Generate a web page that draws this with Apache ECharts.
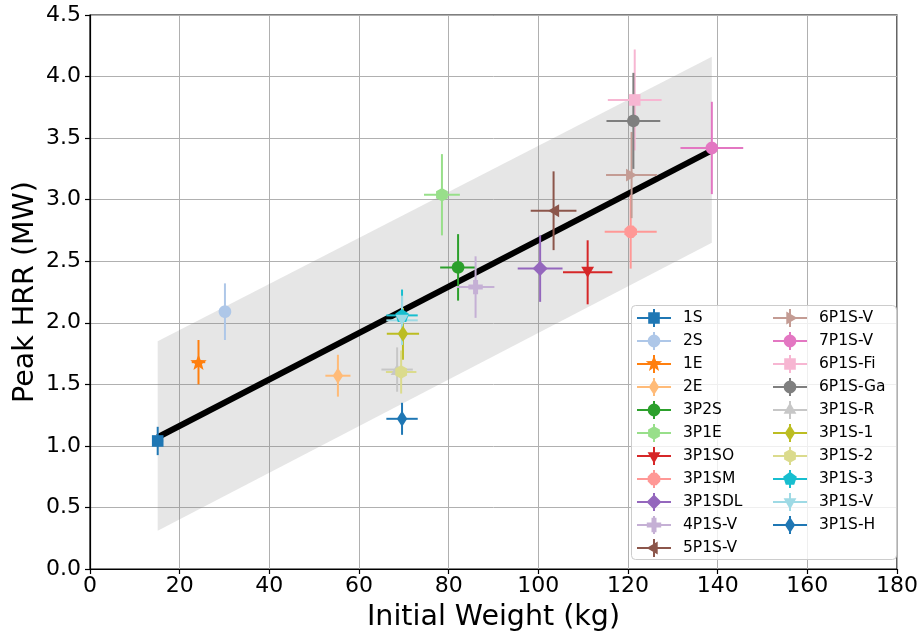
<!DOCTYPE html>
<html>
<head>
<meta charset="utf-8">
<script src="https://cdn.jsdelivr.net/npm/echarts@6/dist/echarts.min.js"></script>
<style>
  html, body { margin: 0; padding: 0; background: #ffffff; }
  #chart { width: 922px; height: 634px; }
</style>
</head>
<body>
<div id="chart"></div>
<script>
// Test configurations
const testNames = ['1S', '2S', '1E', '2E', '3P2S', '3P1E', '3P1SO', '3P1SM', '3P1SDL', '4P1S-V', '5P1S-V',
                   '6P1S-V', '7P1S-V', '6P1S-Fi', '6P1S-Ga', '3P1S-R', '3P1S-1', '3P1S-2', '3P1S-3', '3P1S-V', '3P1S-H'];
// Initial weight (kg) and its uncertainty
const initialWeight = [15.1, 30.1, 24.2, 55.3, 82.1, 78.5, 111.0, 120.6, 100.4, 86.0, 103.4,
                       120.8, 138.7, 121.5, 121.2, 68.5, 69.8, 69.4, 69.6, 69.6, 69.6];
const initialWeightErr = [1.2, 1.2, 1.5, 2.8, 4.0, 4.0, 5.5, 5.8, 5.0, 4.2, 5.1,
                          5.7, 7.0, 6.0, 6.0, 3.5, 3.6, 3.4, 3.5, 3.5, 3.5];
// Peak heat release rate (MW) and its uncertainty
const peakHrr = [1.04, 2.09, 1.68, 1.57, 2.45, 3.04, 2.41, 2.74, 2.44, 2.29, 2.91,
                 3.20, 3.42, 3.81, 3.64, 1.62, 1.91, 1.60, 2.06, 2.02, 1.22];
const peakHrrErr = [0.115, 0.23, 0.18, 0.17, 0.27, 0.33, 0.26, 0.30, 0.27, 0.25, 0.32,
                    0.35, 0.375, 0.41, 0.39, 0.18, 0.21, 0.175, 0.21, 0.20, 0.13];

// Linear fit and its prediction band
const fitWeight = [15.1, 138.7];
const fitHrr = [1.07, 3.40];
const bandLower = [0.31, 2.65];
const bandUpper = [1.85, 4.16];

// Axis ticks
const xTicks = [0, 20, 40, 60, 80, 100, 120, 140, 160, 180];
const yTicks = [0.0, 0.5, 1.0, 1.5, 2.0, 2.5, 3.0, 3.5, 4.0, 4.5];

// Styling per series
const seriesColors = ['#1f77b4', '#aec7e8', '#ff7f0e', '#ffbb78', '#2ca02c', '#98df8a', '#d62728', '#ff9896',
                      '#9467bd', '#c5b0d5', '#8c564b', '#c49c94', '#e377c2', '#f7b6d2', '#7f7f7f', '#c7c7c7',
                      '#bcbd22', '#dbdb8d', '#17becf', '#9edae5', '#1f77b4'];
const seriesShapes = ['square', 'circle', 'star', 'thinDiamond', 'circle', 'hexagon', 'triangleDown', 'octagon',
                      'diamond', 'plus', 'triangleLeft', 'triangleRight', 'circle', 'square', 'circle', 'triangleUp',
                      'thinDiamond', 'hexagon', 'pentagon', 'triangleDown', 'thinDiamond'];

const FONT = "'DejaVu Sans', sans-serif";

function ngon(n, r, startDeg) {
  const pts = [];
  for (let k = 0; k < n; k++) {
    const a = (startDeg + k * 360 / n) * Math.PI / 180;
    pts.push([r * Math.cos(a), r * Math.sin(a)]);
  }
  return pts;
}

function shapePoints(shape) {
  switch (shape) {
    case 'square': { const a = 5.8; return [[-a, -a], [a, -a], [a, a], [-a, a]]; }
    case 'circle': return ngon(36, 6.3, 0);
    case 'star': {
      const pts = [];
      for (let k = 0; k < 10; k++) {
        const a = (-90 + k * 36) * Math.PI / 180;
        const r = k % 2 === 0 ? 8.6 : 3.6;
        pts.push([r * Math.cos(a), r * Math.sin(a)]);
      }
      return pts;
    }
    case 'thinDiamond': { const r = 8; return [[0, -r], [0.65 * r, 0], [0, r], [-0.65 * r, 0]]; }
    case 'diamond': { const r = 7.5; return [[0, -r], [r, 0], [0, r], [-r, 0]]; }
    case 'triangleUp': return ngon(3, 7.4, -90);
    case 'triangleDown': return ngon(3, 7.4, 90);
    case 'triangleLeft': return ngon(3, 7.4, 180);
    case 'triangleRight': return ngon(3, 7.4, 0);
    case 'hexagon': return ngon(6, 6.8, -90);
    case 'octagon': return ngon(8, 6.8, 22.5);
    case 'pentagon': return ngon(5, 7.2, -90);
    case 'plus': {
      const r = 7.2, w = 2.5;
      return [[-w, -r], [w, -r], [w, -w], [r, -w], [r, w], [w, w], [w, r], [-w, r], [-w, w], [-r, w], [-r, -w], [-w, -w]];
    }
  }
  return ngon(36, 6, 0);
}

function polyPath(pts, dx, dy) {
  return pts.map((p, i) => (i === 0 ? 'M' : 'L') + (p[0] + dx).toFixed(2) + ' ' + (p[1] + dy).toFixed(2)).join(' ') + ' Z';
}

function bbox(pts) {
  const xs = pts.map(p => p[0]), ys = pts.map(p => p[1]);
  return [Math.max(...xs) - Math.min(...xs), Math.max(...ys) - Math.min(...ys)];
}

// Legend icon: horizontal line, vertical error tick and the marker, inside a 34x18 box
function legendIcon(shape) {
  const line = 'M0 8 L34 8 L34 10 L0 10 Z';
  const vbar = 'M16 0 L18 0 L18 18 L16 18 Z';
  return 'path://' + line + ' ' + vbar + ' ' + polyPath(shapePoints(shape), 17, 9);
}

const series = [];

// Prediction band
series.push({
  type: 'custom',
  name: 'band',
  z: 1,
  silent: true,
  data: fitWeight.map((w, i) => [w, bandLower[i], bandUpper[i]]),
  renderItem: function (params, api) {
    if (params.dataIndex !== 0) return null;
    const pts = [];
    for (let i = 0; i < fitWeight.length; i++) pts.push(api.coord([fitWeight[i], bandLower[i]]));
    for (let i = fitWeight.length - 1; i >= 0; i--) pts.push(api.coord([fitWeight[i], bandUpper[i]]));
    return { type: 'polygon', shape: { points: pts }, style: { fill: 'rgba(128,128,128,0.2)' } };
  }
});

// Fit line
series.push({
  type: 'line',
  name: 'fit',
  z: 2,
  silent: true,
  symbol: 'none',
  data: fitWeight.map((w, i) => [w, fitHrr[i]]),
  lineStyle: { color: '#000000', width: 6, cap: 'butt' },
  itemStyle: { color: '#000000' }
});

testNames.forEach((name, i) => {
  const color = seriesColors[i];
  // error bars
  series.push({
    type: 'custom',
    name: name,
    z: 3,
    itemStyle: { color: color },
    data: [[initialWeight[i], peakHrr[i], initialWeightErr[i], peakHrrErr[i]]],
    encode: { x: 0, y: 1 },
    renderItem: function (params, api) {
      const x = api.value(0), y = api.value(1), xe = api.value(2), ye = api.value(3);
      const a = api.coord([x - xe, y]), b = api.coord([x + xe, y]);
      const c = api.coord([x, y - ye]), d = api.coord([x, y + ye]);
      const st = { stroke: color, lineWidth: 2, fill: null };
      return {
        type: 'group',
        children: [
          { type: 'line', shape: { x1: a[0], y1: a[1], x2: b[0], y2: b[1] }, style: st },
          { type: 'line', shape: { x1: c[0], y1: c[1], x2: d[0], y2: d[1] }, style: st }
        ]
      };
    }
  });
  // marker: the path is stretched to its own bounding box size
  const pts = shapePoints(seriesShapes[i]);
  series.push({
    type: 'scatter',
    name: name,
    z: 4,
    symbol: 'path://' + polyPath(pts, 0, 0),
    symbolSize: bbox(pts),
    symbolKeepAspect: false,
    itemStyle: { color: color, opacity: 1 },
    data: [[initialWeight[i], peakHrr[i]]]
  });
});

function legendBlock(names, left) {
  return {
    orient: 'vertical',
    left: left,
    top: 309,
    padding: 0,
    itemWidth: 34,
    itemHeight: 18,
    itemGap: 5,
    z: 20,
    selectedMode: false,
    textStyle: { fontFamily: FONT, fontSize: 15.5, color: '#000000', padding: [0, 0, 0, 7] },
    data: names.map(n => ({ name: n, icon: legendIcon(seriesShapes[testNames.indexOf(n)]) }))
  };
}

const option = {
  animation: false,
  backgroundColor: '#ffffff',
  grid: {
    left: 90, right: 25, top: 15, bottom: 65,
    outerBoundsMode: 'none', containLabel: false,
    show: true, borderColor: '#000000', borderWidth: 1.2, backgroundColor: 'transparent'
  },
  xAxis: {
    type: 'value',
    min: xTicks[0],
    max: xTicks[xTicks.length - 1],
    interval: xTicks[1] - xTicks[0],
    name: 'Initial Weight (kg)',
    nameLocation: 'middle',
    nameGap: 34,
    nameMoveOverlap: false,
    nameTextStyle: { fontFamily: FONT, fontSize: 28.5, color: '#000000' },
    axisLine: { show: true, onZero: false, lineStyle: { color: '#000000', width: 1.2 } },
    axisTick: { show: true, inside: false, length: 5, lineStyle: { color: '#000000', width: 1.2 } },
    axisLabel: { fontFamily: FONT, fontSize: 22, color: '#000000', margin: 6 },
    splitLine: { show: true, lineStyle: { color: '#b0b0b0', width: 1 } }
  },
  yAxis: {
    type: 'value',
    min: yTicks[0],
    max: yTicks[yTicks.length - 1],
    interval: yTicks[1] - yTicks[0],
    name: 'Peak HRR (MW)',
    nameLocation: 'middle',
    nameGap: 50,
    nameMoveOverlap: false,
    nameTextStyle: { fontFamily: FONT, fontSize: 28.5, color: '#000000' },
    axisLine: { show: true, onZero: false, lineStyle: { color: '#000000', width: 1.2 } },
    axisTick: { show: true, inside: false, length: 5, lineStyle: { color: '#000000', width: 1.2 } },
    axisLabel: { fontFamily: FONT, fontSize: 22, color: '#000000', margin: 9, formatter: v => v.toFixed(1) },
    splitLine: { show: true, lineStyle: { color: '#b0b0b0', width: 1 } }
  },
  graphic: [{
    type: 'rect',
    z: 10,
    shape: { x: 631.5, y: 305.5, width: 265, height: 254, r: 4 },
    style: { fill: 'rgba(255,255,255,0.8)', stroke: '#cccccc', lineWidth: 1 }
  }],
  legend: [legendBlock(testNames.slice(0, 11), 637), legendBlock(testNames.slice(11), 773)],
  series: series
};

const chart = echarts.init(document.getElementById('chart'), null, { renderer: 'canvas' });
chart.setOption(option);
</script>
</body>
</html>
